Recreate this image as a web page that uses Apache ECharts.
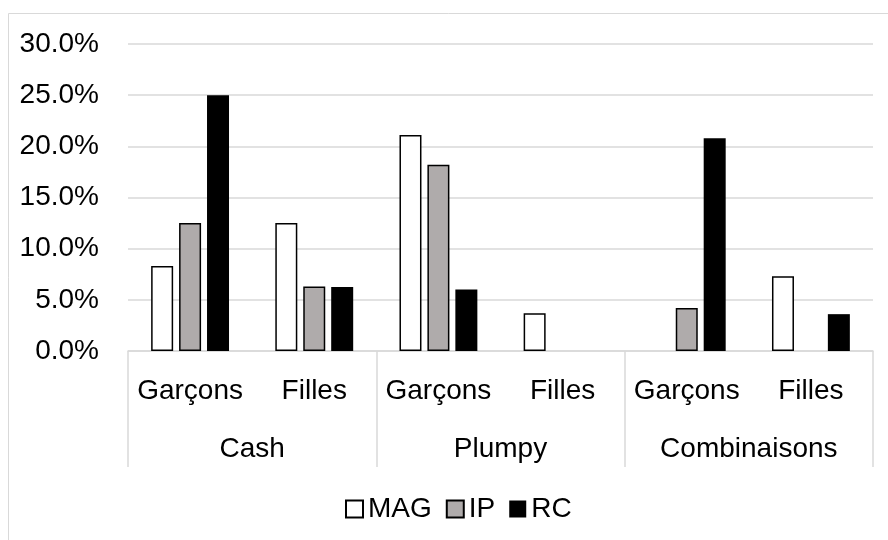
<!DOCTYPE html>
<html>
<head>
<meta charset="utf-8">
<script src="https://cdn.jsdelivr.net/npm/echarts@6/dist/echarts.min.js"></script>
<style>
html,body{margin:0;padding:0;background:#fff;}
#c{width:888px;height:540px;}
</style>
</head>
<body>
<div id="c"></div>
<script>
var subCategories = ['Garçons', 'Filles', 'Garçons', 'Filles', 'Garçons', 'Filles'];
var groups = ['Cash', 'Plumpy', 'Combinaisons'];
var seriesNames = ['MAG', 'IP', 'RC'];
var magValues = [8.3, 12.5, 21.1, 3.7, 0, 7.3];
var ipValues = [12.5, 6.3, 18.2, 0, 4.2, 0];
var rcValues = [25.0, 6.25, 6.0, 0, 20.8, 3.6];
var yTicks = [0, 5, 10, 15, 20, 25, 30];

var FONT = '"Liberation Sans Narrow", "Arial Narrow", "Liberation Sans", Arial, sans-serif';
var FS = 28;

function cleanZeros(arr) {
  return arr.map(function (v) { return v === 0 ? '-' : v; });
}

var chart = echarts.init(document.getElementById('c'), null, { renderer: 'canvas' });
var styles = [
  { color: '#ffffff', borderColor: '#000000', borderWidth: 1.5 },
  { color: '#afabab', borderColor: '#000000', borderWidth: 1.5 },
  { color: '#000000', borderColor: '#000000', borderWidth: 0 }
];
var values = [magValues, ipValues, rcValues];

chart.setOption({
  animation: false,
  backgroundColor: '#ffffff',
  textStyle: { fontFamily: FONT },
  graphic: [{
    type: 'rect',
    shape: { x: 8.5, y: 13.5, width: 950, height: 650 },
    style: { fill: 'none', stroke: '#d9d9d9', lineWidth: 1 },
    silent: true,
    z: -10
  }],
  grid: { left: 128, right: 15, top: 44, bottom: 189, containLabel: false },
  legend: {
    data: seriesNames,
    left: 340,
    top: 490,
    itemWidth: 17,
    itemHeight: 17,
    itemGap: 14,
    icon: 'rect',
    textStyle: { fontFamily: FONT, fontSize: FS, color: '#000' }
  },
  xAxis: [{
    type: 'category',
    data: subCategories,
    position: 'bottom',
    axisLine: { show: true, lineStyle: { color: '#d9d9d9', width: 1.5 } },
    axisTick: { show: false },
    axisLabel: { interval: 0, margin: 26, fontFamily: FONT, fontSize: FS, color: '#000' }
  }, {
    type: 'category',
    data: groups,
    position: 'bottom',
    gridIndex: 0,
    axisLine: { show: false },
    axisTick: { show: true, length: 116, lineStyle: { color: '#d9d9d9', width: 1.5 } },
    axisLabel: { interval: 0, margin: 84, fontFamily: FONT, fontSize: FS, color: '#000' }
  }],
  yAxis: {
    type: 'value',
    min: yTicks[0],
    max: yTicks[yTicks.length - 1],
    interval: 5,
    axisLine: { show: false },
    axisTick: { show: false },
    splitLine: { lineStyle: { color: '#d9d9d9', width: 1.5 } },
    axisLabel: {
      margin: 29,
      fontFamily: FONT,
      fontSize: FS,
      color: '#000',
      formatter: function (v) { return v.toFixed(1) + '%'; }
    }
  },
  series: seriesNames.map(function (name, i) {
    return {
      name: name,
      type: 'bar',
      xAxisIndex: 0,
      data: cleanZeros(values[i]),
      barWidth: 22,
      barGap: '27%',
      itemStyle: styles[i]
    };
  })
});
</script>
</body>
</html>
